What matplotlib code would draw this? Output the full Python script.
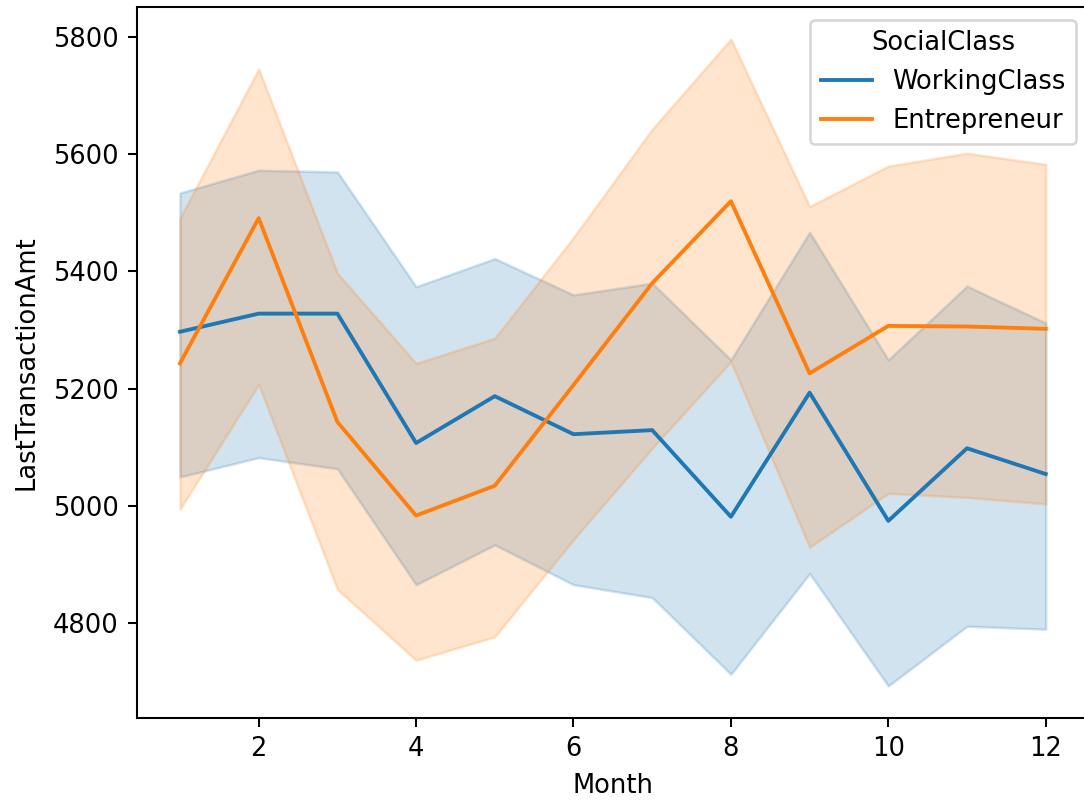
import matplotlib
matplotlib.use("Agg")
import matplotlib.pyplot as plt

months = [1, 2, 3, 4, 5, 6, 7, 8, 9, 10, 11, 12]

wc_mean = [5297, 5328, 5328, 5107, 5187, 5122, 5129, 4981, 5193, 4974, 5098, 5054]
wc_low = [5049, 5082, 5063, 4865, 4933, 4865, 4843, 4712, 4884, 4692, 4794, 4789]
wc_high = [5534, 5573, 5570, 5374, 5422, 5360, 5380, 5249, 5467, 5249, 5375, 5312]

en_mean = [5243, 5491, 5143, 4983, 5034, 5206, 5380, 5520, 5226, 5307, 5306, 5302]
en_low = [4994, 5207, 4857, 4736, 4776, 4942, 5098, 5246, 4929, 5021, 5014, 5003]
en_high = [5491, 5746, 5397, 5243, 5286, 5458, 5643, 5797, 5511, 5580, 5602, 5583]

series_names = ["WorkingClass", "Entrepreneur"]
colors = ["#1f77b4", "#ff7f0e"]

DPI = 185
fig = plt.figure(figsize=(1084 / DPI, 801 / DPI), dpi=DPI)
ax = fig.add_axes([136.7 / 1084, (801 - 718.3) / 801, (1089 - 136.7) / 1084, (718.3 - 6.7) / 801])

for name, mean, lo, hi, c in [
    (series_names[0], wc_mean, wc_low, wc_high, colors[0]),
    (series_names[1], en_mean, en_low, en_high, colors[1]),
]:
    ax.plot(months, mean, color=c, lw=1.5, label=name)
    ax.fill_between(months, lo, hi, color=c, alpha=0.2)

ax.set_xlabel("Month")
ax.set_ylabel("LastTransactionAmt")
ax.yaxis.labelpad = 5
ax.legend(title="SocialClass", loc="upper right")

fig.savefig("out.png", dpi=DPI)
